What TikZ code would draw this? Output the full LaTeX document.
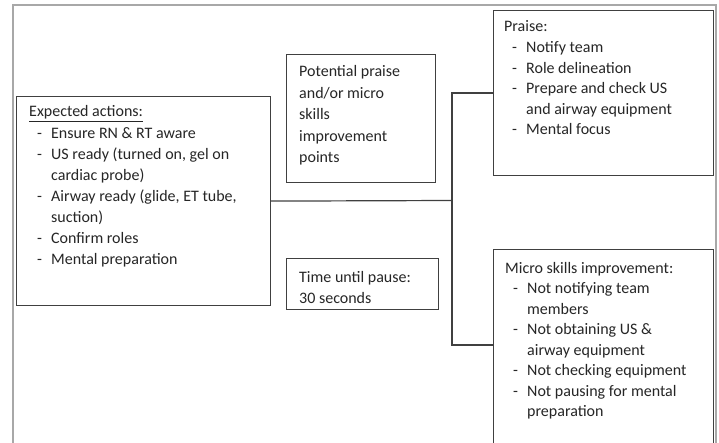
\documentclass[tikz,border=0pt]{standalone}
\usepackage{fontspec}
\setmainfont{Carlito}
\definecolor{boxline}{HTML}{404040}
\definecolor{pageframe}{HTML}{A8A8A8}
\definecolor{txtcol}{HTML}{262626}
\newcommand\itm[1]{\par\hangindent=22pt\hangafter=1\leavevmode\makebox[22pt][l]{\hspace*{8pt}-}#1}
\newcommand\boxtext[2]{\parbox[t]{300pt}{\fontsize{16}{#1}\selectfont #2}}
\tikzset{
  box/.style={draw=boxline, line width=1.2pt, anchor=north west, inner sep=0pt, fill=white},
  boxlabel/.style={anchor=base west, inner sep=0pt, text=txtcol},
  conn/.style={draw=boxline, line width=1.2pt},
  frameline/.style={draw=pageframe, line width=1.6pt},
}
\begin{document}
\begin{tikzpicture}[x=1pt,y=-1pt]
\useasboundingbox (0,0) rectangle (719,443);
\clip (0,0) rectangle (719,443);
% page frame
\draw[frameline] (13,460) -- (13,5) -- (716,5) -- (716,460);
% boxes
\node[box, minimum width=254pt, minimum height=209pt] (exp) at (16,96) {};
\node[box, minimum width=149pt, minimum height=128pt] (pot) at (286,54) {};
\node[box, minimum width=152pt, minimum height=51pt] (time) at (286,258) {};
\node[box, minimum width=220pt, minimum height=165pt] (praise) at (493,10) {};
\node[box, minimum width=220pt, minimum height=210pt] (micro) at (493,249) {};
% texts
\node[boxlabel] (expt) at (29,117) {\boxtext{21.1pt}{\underline{Expected actions:}
  \itm{Ensure RN \& RT aware}
  \itm{US ready (turned on, gel on\newline cardiac probe)}
  \itm{Airway ready (glide, ET tube,\newline suction)}
  \itm{Confirm roles}
  \itm{Mental preparation}}};
\node[boxlabel] (pott) at (299,77) {\boxtext{21.5pt}{Potential praise\newline and/or micro\newline skills\newline improvement\newline points}};
\node[boxlabel] (timet) at (299,282) {\boxtext{21pt}{Time until pause:\newline 30 seconds}};
\node[boxlabel] (praiset) at (504,32) {\boxtext{20.6pt}{Praise:
  \itm{Notify team}
  \itm{Role delineation}
  \itm{Prepare and check US\newline and airway equipment}
  \itm{Mental focus}}};
\node[boxlabel] (microt) at (505,273) {\boxtext{20.5pt}{Micro skills improvement:
  \itm{Not notifying team\newline members}
  \itm{Not obtaining US \&\newline airway equipment}
  \itm{Not checking equipment}
  \itm{Not pausing for mental\newline preparation}}};
% connectors
\coordinate (jn) at (452,200.5);
\coordinate (microin) at (493,345);
\draw[conn] (exp.east) -- (jn);
\draw[conn] (praise.west) -| (jn) |- (microin);
\end{tikzpicture}
\end{document}
